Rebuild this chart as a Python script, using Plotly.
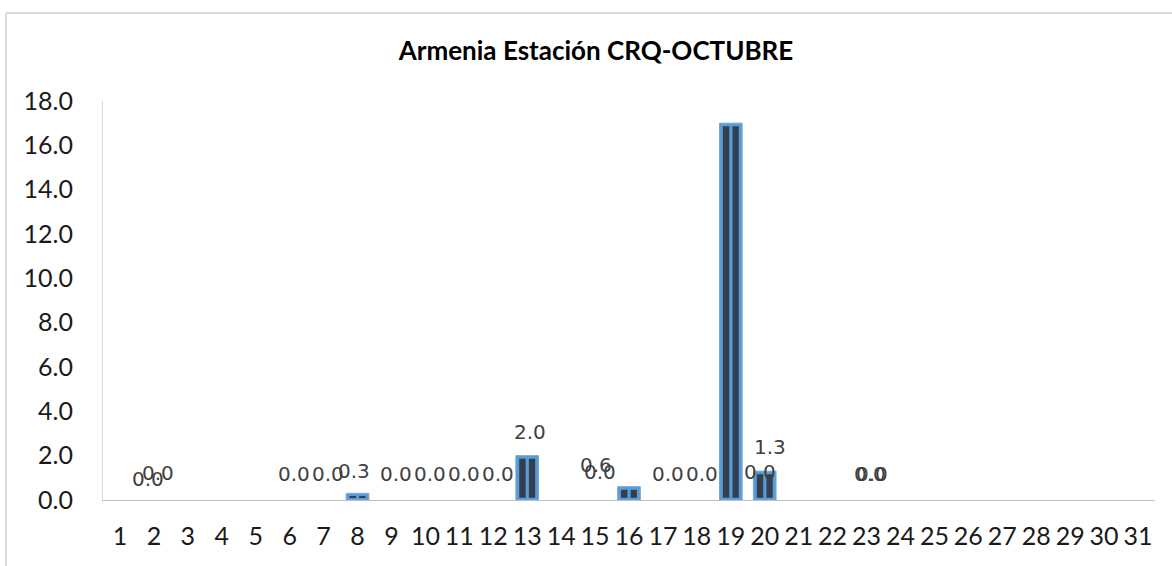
import plotly.graph_objects as go

# ---- data ----
days = list(range(1, 32))
day_labels = [str(d) for d in days]
# precipitation (mm) per day of October; None = no record
precip = [None] * 31
precip[8 - 1] = 0.3
precip[13 - 1] = 2.0
precip[16 - 1] = 0.6
precip[19 - 1] = 17.0
precip[20 - 1] = 1.3

# data labels shown on the chart (day, value)
label_days = [2, 2, 6, 7, 8, 9, 10, 11, 12, 13, 15, 16, 17, 18, 20, 20, 23, 23]
label_values = [0.0, 0.0, 0.0, 0.0, 0.3, 0.0, 0.0, 0.0, 0.0, 2.0, 0.0, 0.6, 0.0, 0.0, 1.3, 0.0, 0.0, 0.0]
label_dx = [-6, 4, 4, 4, -4, 5, 5, 5, 5, 3, 5, -33, 5, 5, 5, -5, 5, 3]
label_dy = [21, 27, 26, 26, 22, 26, 26, 26, 26, 24, 28, 22, 26, 26, 24, 28, 26, 26]

y_ticks = [0, 2, 4, 6, 8, 10, 12, 14, 16, 18]
title = "Armenia Estación CRQ-OCTUBRE"

# ---- styling ----
LIGHT = "#5B9BD5"
DARK = "#333F50"
top_inset = 0.14
bot_inset = 0.10
stripe_len = [(v - top_inset - bot_inset) if v else None for v in precip]

fig = go.Figure()
fig.add_trace(go.Bar(
    x=days, y=precip, width=0.667, marker=dict(color=LIGHT, line=dict(color="#6FA8DC", width=1)),
    hoverinfo="x+y", showlegend=False))
for off, w in [(-0.235, 0.19), (0.05, 0.185)]:
    fig.add_trace(go.Bar(
        x=days, y=stripe_len, base=bot_inset, offset=off, width=w,
        marker=dict(color=DARK, line=dict(width=0)), hoverinfo="skip", showlegend=False))

for d, v, dx, dy in zip(label_days, label_values, label_dx, label_dy):
    fig.add_annotation(x=d, y=v, text=f"{v:.1f}", showarrow=False, xshift=dx, yshift=dy,
                       font=dict(family="DejaVu Sans", size=20, color="#404040"),
                       xanchor="center", yanchor="middle")

# chart border (top and left edges visible)
fig.add_shape(type="line", xref="paper", yref="paper", x0=(6 - 103) / 1052, x1=1.2,
              y0=(500 - 13) / 399, y1=(500 - 13) / 399, line=dict(color="#D9D9D9", width=2))
fig.add_shape(type="line", xref="paper", yref="paper", x0=(6 - 103) / 1052, x1=(6 - 103) / 1052,
              y0=(500 - 13) / 399, y1=-0.3, line=dict(color="#D9D9D9", width=2))

fig.update_layout(
    width=1172, height=566,
    margin=dict(l=103, r=17, t=101, b=66, autoexpand=False),
    paper_bgcolor="white", plot_bgcolor="white",
    barmode="overlay", bargap=0.33,
    title=dict(text=f"<b>{title}</b>", x=596 / 1172, xref="container", xanchor="center",
               y=1 - 51 / 566, yref="container", yanchor="middle",
               font=dict(family="Lato", size=26, color="#000000")),
    font=dict(family="Lato", color="#1a1a1a"),
)
fig.update_xaxes(range=[0.5, 31.5], tickmode="array", tickvals=days, ticktext=day_labels,
                 showgrid=False, zeroline=False, showline=True, linecolor="#BFBFBF", linewidth=1,
                 automargin=False,
                 ticks="", ticklabelstandoff=14, tickfont=dict(family="Lato", size=25, color="#1a1a1a"))
fig.update_yaxes(range=[0, 18], tickmode="array", tickvals=y_ticks, tickformat=".1f",
                 showgrid=False, zeroline=False, showline=True, linecolor="#D9D9D9", linewidth=1,
                 automargin=False,
                 ticks="", ticklabelstandoff=24, tickfont=dict(family="Lato", size=25, color="#1a1a1a"))

fig.write_html("out.html", config={"displayModeBar": False},
               post_script="document.body.style.margin='0';document.body.style.overflow='hidden';")
